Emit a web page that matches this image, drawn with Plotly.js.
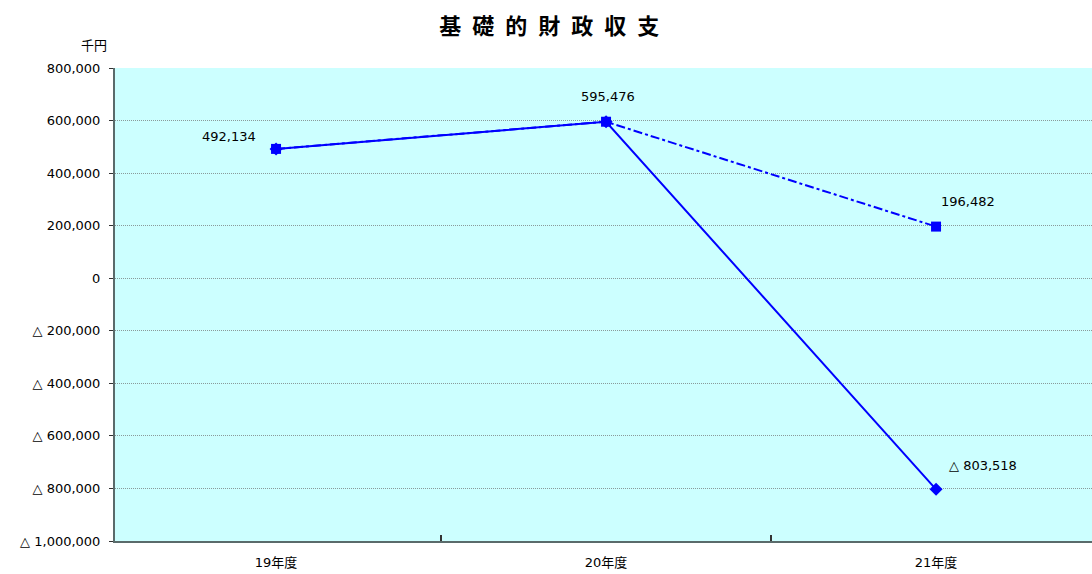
<!DOCTYPE html>
<html>
<head>
<meta charset="utf-8">
<script src="https://cdn.plot.ly/plotly-3.0.1.min.js"></script>
<style>html,body{margin:0;padding:0;background:#fff;}#chart{width:1092px;height:574px;}</style>
</head>
<body>
<div id="chart"></div>
<script>
const categories = ["19年度", "20年度", "21年度"];
const actualValues = [492134, 595476, -803518];
const planValues = [492134, 595476, 196482];
const yTickVals = [800000, 600000, 400000, 200000, 0, -200000, -400000, -600000, -800000, -1000000];
const yTickText = ["800,000", "600,000", "400,000", "200,000", "0", "△ 200,000", "△ 400,000", "△ 600,000", "△ 800,000", "△ 1,000,000"];
const labelTexts = ["492,134", "595,476", "196,482", "△ 803,518"];

const FONT = "'DejaVu Sans', 'Noto Sans CJK JP', sans-serif";
const CJK = "'Noto Sans CJK JP', sans-serif";
const BLUE = "#0000FF";
const X0 = -0.488;
const XR = [X0, X0 + 977 / 330];

const traces = [
  {
    x: [0, 1, 2], y: planValues, type: "scatter", mode: "lines+markers",
    line: {color: BLUE, width: 2, dash: "dashdot"},
    marker: {symbol: "square", size: 10, color: BLUE},
    hoverinfo: "skip"
  },
  {
    x: [0, 1, 2], y: actualValues, type: "scatter", mode: "lines+markers",
    line: {color: BLUE, width: 2},
    marker: {symbol: "diamond", size: 10, color: BLUE},
    hoverinfo: "skip"
  },
  {x: [0.5], y: [null], xaxis: "x2", type: "scatter", mode: "markers", hoverinfo: "skip", showlegend: false}
];

const annotations = [
  {x: 0, y: actualValues[0], text: labelTexts[0], xshift: -47, yshift: 12},
  {x: 1, y: actualValues[1], text: labelTexts[1], xshift: 2, yshift: 25},
  {x: 2, y: planValues[2], text: labelTexts[2], xshift: 32, yshift: 25},
  {x: 2, y: actualValues[2], text: labelTexts[3], xshift: 47, yshift: 24}
].map(a => Object.assign({xref: "x", yref: "y", showarrow: false, font: {family: FONT, size: 13, color: "#000"}}, a));

annotations.push({
  xref: "paper", yref: "paper", x: -0.021, y: 1.0, yshift: 24, xanchor: "center", yanchor: "middle",
  text: "千円", showarrow: false, font: {family: CJK, size: 13, color: "#000"}
});

const layout = {
  width: 1092, height: 574,
  margin: {l: 115, r: 0, t: 68, b: 33},
  paper_bgcolor: "#ffffff",
  plot_bgcolor: "#CCFFFF",
  showlegend: false,
  title: {
    text: "基\u2002礎\u2002的\u2002財\u2002政\u2002収\u2002支",
    font: {family: CJK, size: 22, color: "#000", weight: "bold"},
    xref: "container", x: 0.503, xanchor: "center",
    yref: "container", y: 0.955, yanchor: "middle"
  },
  xaxis: {
    type: "linear",
    range: XR,
    tickvals: [0, 1, 2], ticktext: categories,
    showgrid: false, zeroline: false,
    showline: true, linecolor: "#5a6b6b", linewidth: 2,
    ticks: "",
    ticklabelstandoff: 8,
    tickfont: {family: FONT, size: 13, color: "#000"},
    fixedrange: true
  },
  xaxis2: {
    overlaying: "x", range: XR,
    tickvals: [0.5, 1.5], ticks: "inside", ticklen: 6, tickwidth: 2, tickcolor: "#333",
    showgrid: false, zeroline: false, showline: false, side: "bottom", showticklabels: false
  },
  yaxis: {
    range: [-1000000, 800000],
    tickvals: yTickVals, ticktext: yTickText,
    showgrid: true, gridcolor: "#8a9a9a", griddash: "1px,1px", gridwidth: 1,
    zeroline: false,
    showline: true, linecolor: "#5a6b6b", linewidth: 2,
    ticks: "outside", ticklen: 4, tickwidth: 1, tickcolor: "#333",
    tickfont: {family: FONT, size: 13, color: "#000"},
    ticklabelstandoff: 6,
    fixedrange: true
  },
  annotations: annotations
};

Plotly.newPlot("chart", traces, layout, {displayModeBar: false, staticPlot: true});
</script>
</body>
</html>
